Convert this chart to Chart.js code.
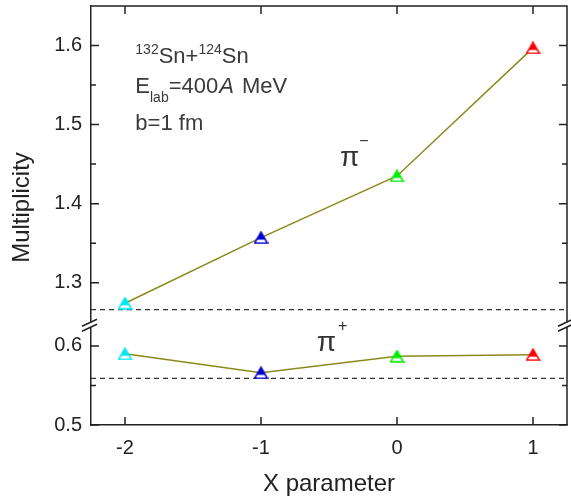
<!DOCTYPE html>
<html>
<head>
<meta charset="utf-8">
<script src="https://cdn.jsdelivr.net/npm/chart.js@4"></script>
<style>
    html, body { margin: 0; padding: 0; background: #fff; }
    #wrap { width: 571px; height: 504px; }
</style>
</head>
<body>
<div id="wrap"><canvas id="chart"></canvas></div>
<script>
// Data
const xValues = [-2, -1, 0, 1];
const piMinus = [1.274, 1.357, 1.435, 1.597];
const piPlus = [0.590, 0.566, 0.587, 0.589];
const pointColors = ['#00e8f0', '#0000d0', '#00ee00', '#ff0000'];
const refMinus = 1.266;
const refPlus = 0.559;

// Axes
const xRange = [-2.25, 1.25];
const upperRange = [1.25, 1.65];
const lowerRange = [0.5, 0.63];
const xTicks = [-2, -1, 0, 1];
const upperTicks = [1.3, 1.4, 1.5, 1.6];
const upperMinor = [1.35, 1.45, 1.55];
const lowerTicks = [0.5, 0.6];
const lowerMinor = [0.55];

const FONT = '"Liberation Sans", Arial, sans-serif';
const LINE = '#8a8a1c';
const AXIS = '#222';

// half filled triangle marker
function triangle(color) {
    const c = document.createElement('canvas');
    c.width = 15;
    c.height = 13;
    const g = c.getContext('2d');
    g.beginPath();
    g.moveTo(7.5, 1);
    g.lineTo(14, 12);
    g.lineTo(1, 12);
    g.closePath();
    g.fillStyle = '#fff';
    g.fill();
    g.save();
    g.clip();
    g.fillStyle = color;
    g.fillRect(0, 0, 15, 8.5);
    g.restore();
    g.strokeStyle = color;
    g.lineWidth = 1.5;
    g.stroke();
    return c;
}
const markers = pointColors.map(triangle);

function points(ys) {
    return xValues.map((x, i) => ({ x: x, y: ys[i] }));
}

function setTicks(list) {
    return scale => { scale.ticks = list.map(v => ({ value: v })); };
}

const decorations = {
    id: 'decorations',
    afterDraw(chart) {
        const ctx = chart.ctx;
        const a = chart.chartArea;
        const sx = chart.scales.x;
        const up = chart.scales.yUp;
        const low = chart.scales.yLow;
        ctx.save();
        ctx.strokeStyle = AXIS;
        ctx.lineWidth = 1.5;

        // top and right frame
        ctx.beginPath();
        ctx.moveTo(a.left, a.top);
        ctx.lineTo(a.right, a.top);
        ctx.lineTo(a.right, a.bottom);
        ctx.stroke();

        // inward ticks
        ctx.beginPath();
        xTicks.forEach(v => {
            const px = sx.getPixelForValue(v);
            ctx.moveTo(px, a.top); ctx.lineTo(px, a.top + 8);
            ctx.moveTo(px, a.bottom); ctx.lineTo(px, a.bottom - 8);
        });
        const yTick = (scale, v, len) => {
            const py = scale.getPixelForValue(v);
            ctx.moveTo(a.left, py); ctx.lineTo(a.left + len, py);
            ctx.moveTo(a.right, py); ctx.lineTo(a.right - len, py);
        };
        upperTicks.forEach(v => yTick(up, v, 8));
        upperMinor.forEach(v => yTick(up, v, 5));
        lowerTicks.forEach(v => yTick(low, v, 8));
        lowerMinor.forEach(v => yTick(low, v, 5));
        ctx.stroke();

        // axis break marks
        const by = up.getPixelForValue(upperRange[0]);
        [a.left, a.right].forEach(x => {
            ctx.fillStyle = '#fff';
            ctx.fillRect(x - 2, by, 4, 5);
            ctx.beginPath();
            ctx.moveTo(x - 9, by + 4); ctx.lineTo(x + 6, by - 3);
            ctx.moveTo(x - 9, by + 9); ctx.lineTo(x + 6, by + 2);
            ctx.stroke();
        });

        // y title
        ctx.fillStyle = AXIS;
        ctx.font = '24px ' + FONT;
        ctx.textAlign = 'center';
        ctx.textBaseline = 'middle';
        ctx.save();
        ctx.translate(22, (a.top + a.bottom) / 2 - 8);
        ctx.rotate(-Math.PI / 2);
        ctx.fillText('Multiplicity', 0, 0);
        ctx.restore();

        // annotation text
        ctx.textAlign = 'left';
        ctx.textBaseline = 'alphabetic';
        ctx.fillStyle = '#3a3a3a';
        const runs = (x, y, parts) => {
            parts.forEach(p => {
                ctx.font = (p.italic ? 'italic ' : '') + p.size + 'px ' + FONT;
                ctx.fillText(p.t, x, y + (p.dy || 0));
                x += ctx.measureText(p.t).width + (p.gap || 0);
            });
        };
        const tx = sx.getPixelForValue(-1.924);
        runs(tx, up.getPixelForValue(1.578), [
            { t: '132', size: 14, dy: -9 },
            { t: 'Sn+', size: 22 },
            { t: '124', size: 14, dy: -9 },
            { t: 'Sn', size: 22 }
        ]);
        runs(tx, up.getPixelForValue(1.540), [
            { t: 'E', size: 22 },
            { t: 'lab', size: 14, dy: 9 },
            { t: '=400', size: 22, gap: 1 },
            { t: 'A', size: 22, italic: true, gap: 2 },
            { t: ' MeV', size: 22 }
        ]);
        runs(tx, up.getPixelForValue(1.493), [
            { t: 'b=1 fm', size: 22 }
        ]);

        ctx.fillStyle = '#333';
        runs(sx.getPixelForValue(-0.42), up.getPixelForValue(1.448), [
            { t: 'π', size: 28 },
            { t: '−', size: 16, dy: -20 }
        ]);
        runs(sx.getPixelForValue(-0.59), low.getPixelForValue(0.594), [
            { t: 'π', size: 28, gap: 2 },
            { t: '+', size: 16, dy: -20 }
        ]);
        ctx.restore();
    }
};

const tickFont = { family: FONT, size: 20 };

function fitY(s) {
    s.width = 91;
    s.paddingTop = 0;
    s.paddingBottom = 0;
}

new Chart(document.getElementById('chart'), {
    type: 'line',
    data: {
        datasets: [
            {
                data: points(piMinus),
                yAxisID: 'yUp',
                borderColor: LINE,
                borderWidth: 1.5,
                pointStyle: markers,
                pointRadius: 7,
                tension: 0
            },
            {
                data: points(piPlus),
                yAxisID: 'yLow',
                borderColor: LINE,
                borderWidth: 1.5,
                pointStyle: markers,
                pointRadius: 7,
                tension: 0
            },
            {
                data: [{ x: xRange[0], y: refMinus }, { x: xRange[1], y: refMinus }],
                yAxisID: 'yUp',
                borderColor: '#333',
                borderWidth: 1.2,
                borderDash: [5, 4],
                pointRadius: 0
            },
            {
                data: [{ x: xRange[0], y: refPlus }, { x: xRange[1], y: refPlus }],
                yAxisID: 'yLow',
                borderColor: '#333',
                borderWidth: 1.2,
                borderDash: [5, 4],
                pointRadius: 0
            }
        ]
    },
    options: {
        responsive: true,
        maintainAspectRatio: false,
        animation: false,
        layout: { autoPadding: false, padding: { top: 6, right: 4, left: 0, bottom: 0 } },
        plugins: { legend: { display: false }, tooltip: { enabled: false } },
        scales: {
            x: {
                type: 'linear',
                min: xRange[0],
                max: xRange[1],
                afterBuildTicks: setTicks(xTicks),
                afterFit: s => { s.height = 79; s.paddingLeft = 0; s.paddingRight = 0; },
                grid: { display: false, drawTicks: false },
                border: { display: true, color: AXIS, width: 1.5 },
                ticks: { color: AXIS, font: tickFont, padding: 11 },
                title: {
                    display: true,
                    text: 'X parameter',
                    color: AXIS,
                    font: { family: FONT, size: 24 },
                    padding: { top: 0, bottom: 5 }
                }
            },
            yLow: {
                type: 'linear',
                position: 'left',
                stack: 'y',
                stackWeight: 0.13,
                min: lowerRange[0],
                max: lowerRange[1],
                afterBuildTicks: setTicks(lowerTicks),
                afterFit: fitY,
                grid: { display: false, drawTicks: false },
                border: { display: true, color: AXIS, width: 1.5 },
                ticks: { color: AXIS, font: tickFont, padding: 9, callback: v => v.toFixed(1) }
            },
            yUp: {
                type: 'linear',
                position: 'left',
                stack: 'y',
                stackWeight: 0.40,
                min: upperRange[0],
                max: upperRange[1],
                afterBuildTicks: setTicks(upperTicks),
                afterFit: fitY,
                grid: { display: false, drawTicks: false },
                border: { display: true, color: AXIS, width: 1.5 },
                ticks: { color: AXIS, font: tickFont, padding: 9, callback: v => v.toFixed(1) }
            }
        }
    },
    plugins: [decorations]
});
</script>
</body>
</html>
